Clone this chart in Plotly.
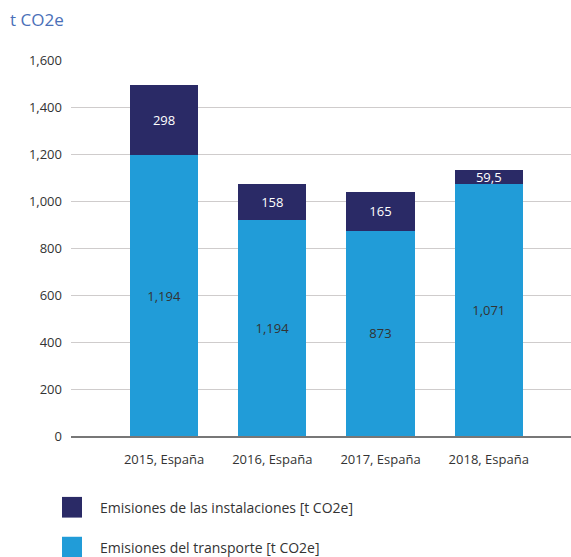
import plotly.graph_objects as go

categories = ["2015, España", "2016, España", "2017, España", "2018, España"]
transporte = [1194, 919, 873, 1071]
instalaciones = [298, 152, 165, 59.5]
transporte_labels = ["1,194", "1,194", "873", "1,071"]
instalaciones_labels = ["298", "158", "165", "59,5"]
series_names = ["Emisiones de las instalaciones [t CO2e]", "Emisiones del transporte [t CO2e]"]
y_ticks = [0, 200, 400, 600, 800, 1000, 1200, 1400, 1600]
y_tick_text = ["0", "200", "400", "600", "800", "1,000", "1,200", "1,400", "1,600"]

DARK = "#2a2a66"
LIGHT = "#219cd8"
FONT = "Open Sans"

fig = go.Figure()
fig.add_trace(go.Bar(
    x=categories, y=transporte, name=series_names[1], marker_color=LIGHT,
    text=transporte_labels, textposition="inside", insidetextanchor="middle",
    textfont=dict(color="#333333", size=13, family=FONT), width=0.63,
    showlegend=False, marker_line_width=0,
))
fig.add_trace(go.Bar(
    x=categories, y=instalaciones, name=series_names[0], marker_color=DARK,
    text=instalaciones_labels, textposition="inside", insidetextanchor="middle",
    textfont=dict(color="#ffffff", size=13, family=FONT), width=0.63,
    showlegend=False, marker_line_width=0,
))

# legend built from shapes + text
legend_colors = [DARK, LIGHT]
for i, (name, col) in enumerate(zip(series_names, legend_colors)):
    y0 = -0.162 - i * 0.106
    fig.add_shape(type="rect", xref="paper", yref="paper",
                  x0=-0.018, x1=0.022, y0=y0 - 0.055, y1=y0,
                  fillcolor=col, line_width=0)
    fig.add_annotation(xref="paper", yref="paper", x=0.054, y=y0 - 0.0275,
                       text=name, showarrow=False, xanchor="left", yanchor="middle",
                       font=dict(size=14, color="#333333", family=FONT))

fig.add_annotation(xref="paper", yref="paper", x=-0.126, y=1.107, text="t CO2e",
                   showarrow=False, xanchor="left", yanchor="middle",
                   font=dict(size=17, color="#4a70b8", family=FONT))

fig.update_layout(
    barmode="stack",
    width=571, height=557,
    margin=dict(l=71, r=0, t=60, b=121),
    plot_bgcolor="white", paper_bgcolor="white",
    font=dict(family=FONT, size=13, color="#333333"),
    uniformtext=dict(minsize=8, mode="show"),
)
fig.update_xaxes(
    range=[-0.86, 3.76], showline=True, linecolor="#777777", linewidth=2,
    ticks="", tickfont=dict(size=13, color="#333333"), showgrid=False,
    ticklabelstandoff=10,
)
fig.update_yaxes(
    range=[0, 1600], tickvals=y_ticks, ticktext=y_tick_text,
    showgrid=True, gridcolor="#cfcccc", gridwidth=1.3, zeroline=False,
    tickfont=dict(size=13, color="#333333"), ticks="", ticklabelstandoff=8,
)

fig.write_html("out.html", post_script="document.body.style.margin='0';",
               config={"displayModeBar": False})
